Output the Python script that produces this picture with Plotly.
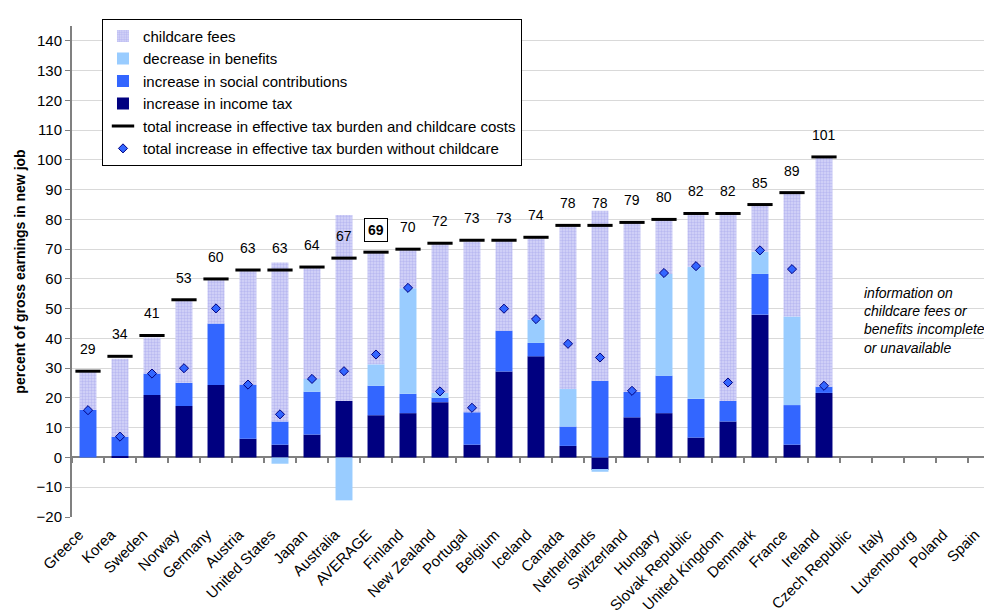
import plotly.graph_objects as go

countries = ["Greece", "Korea", "Sweden", "Norway", "Germany", "Austria", "United States", "Japan",
             "Australia", "AVERAGE", "Finland", "New Zealand", "Portugal", "Belgium", "Iceland", "Canada",
             "Netherlands", "Switzerland", "Hungary", "Slovak Republic", "United Kingdom", "Denmark",
             "France", "Ireland", "Czech Republic", "Italy", "Luxembourg", "Poland", "Spain"]
n_missing = 5  # last five countries: no data

income_tax = [0.0, 0.5, 21.0, 17.3, 24.4, 6.3, 4.3, 7.7, 19.0, 14.2, 14.9, 18.6, 4.3, 28.9, 34.0, 3.9,
              -4.2, 13.5, 14.9, 6.7, 12.1, 48.0, 4.3, 21.7] + [None] * n_missing
social = [16.0, 6.5, 7.2, 7.8, 20.6, 18.1, 7.8, 14.4, 0.0, 9.9, 6.5, 1.4, 10.9, 13.7, 4.5, 6.5,
          25.8, 8.5, 12.6, 13.0, 6.9, 13.7, 13.3, 2.1] + [None] * n_missing
benefits = [0.0, 0.0, 0.0, 0.0, 0.0, 0.0, -2.1, 4.3, -14.4, 7.2, 35.5, 1.7, 0.0, 0.0, 7.8, 12.6,
            -0.6, 0.0, 34.2, 44.4, 0.0, 7.5, 29.8, 0.0] + [None] * n_missing
childcare = [12.7, 26.2, 12.1, 27.8, 15.3, 38.7, 53.4, 37.4, 62.5, 37.6, 12.8, 50.6, 57.4, 30.5, 27.4, 54.7,
             57.1, 57.4, 18.2, 17.9, 63.2, 15.8, 41.6, 77.1] + [None] * n_missing
total = [29, 34, 41, 53, 60, 63, 63, 64, 67, 69, 70, 72, 73, 73, 74, 78,
         78, 79, 80, 82, 82, 85, 89, 101] + [None] * n_missing
without_childcare = [15.9, 7.0, 28.2, 30.0, 50.1, 24.5, 14.5, 26.4, 29.0, 34.6, 57.0, 22.2, 16.7, 50.0, 46.5, 38.2,
                     33.6, 22.4, 62.0, 64.3, 25.2, 69.6, 63.3, 24.1] + [None] * n_missing

FONT = "Liberation Sans, Arial, sans-serif"
bw = 0.53
xrange_ = [-0.5, 28.25]
ymin, ymax = -20, 145

fig = go.Figure()
fig.add_trace(go.Bar(x=countries, y=income_tax, name="increase in income tax", width=bw,
                     marker=dict(color="#000080", line_width=0), legendrank=4))
fig.add_trace(go.Bar(x=countries, y=social, name="increase in social contributions", width=bw,
                     marker=dict(color="#3366FF", line_width=0), legendrank=3))
fig.add_trace(go.Bar(x=countries, y=benefits, name="decrease in benefits", width=bw,
                     marker=dict(color="#99CCFF", line_width=0), legendrank=2))
fig.add_trace(go.Bar(x=countries, y=childcare, name="childcare fees", width=bw,
                     marker=dict(color="#C4C4F2", line_width=0,
                                 pattern=dict(shape=".", size=3, solidity=0.5,
                                              fgcolor="#9C9CEA", bgcolor="#D6D6F8")),
                     legendrank=1))
fig.add_trace(go.Scatter(x=countries, y=total, mode="markers",
                         name="total increase in effective tax burden and childcare costs",
                         marker=dict(symbol="line-ew", size=18, line=dict(width=3, color="black")),
                         legendrank=5))
fig.add_trace(go.Scatter(x=countries, y=without_childcare, mode="markers",
                         name="total increase in effective tax burden without childcare",
                         marker=dict(symbol="diamond", size=7, color="#3366FF",
                                     line=dict(width=1, color="#000080")),
                         legendrank=6))
# helper trace for the tick marks along the zero line
fig.add_trace(go.Scatter(x=countries, y=[0] * len(countries), xaxis="x2", mode="markers",
                         marker=dict(opacity=0), showlegend=False, hoverinfo="skip"))

# value labels above the totals
for c, t in zip(countries, total):
    if t is None:
        continue
    if c == "AVERAGE":
        fig.add_annotation(x=c, y=t, text=f"<b>{t:.0f}</b>", showarrow=False, yanchor="middle", yshift=22,
                           font=dict(size=14, color="black"), bordercolor="black", borderwidth=1,
                           borderpad=3, bgcolor="white")
    else:
        fig.add_annotation(x=c, y=t, text=f"{t:.0f}", showarrow=False, yanchor="middle", yshift=22,
                           font=dict(size=14, color="black"))

fig.add_annotation(xref="paper", x=0.8587, yref="y", y=46, xanchor="left", yanchor="middle", align="left",
                   showarrow=False,
                   text="<i>information on<br>childcare fees or<br>benefits incomplete<br>or unavailable</i>",
                   font=dict(size=14, color="black"))

# page body has an 8px default margin, so the figure is 8px smaller than the window
fig.update_layout(
    width=984, height=608,
    margin=dict(l=64, r=0, t=18, b=99, autoexpand=False),
    paper_bgcolor="white", plot_bgcolor="white",
    font=dict(family=FONT, size=15, color="black"),
    barmode="relative",
    showlegend=True,
    legend=dict(x=0.0326, y=1.015, xanchor="left", yanchor="top", traceorder="normal",
                bgcolor="white", bordercolor="black", borderwidth=1,
                font=dict(size=15), itemwidth=30, tracegroupgap=0),
    xaxis=dict(range=xrange_, autorange=False, tickangle=-45, showgrid=False, showline=False,
               ticks="outside", ticklen=2, tickcolor="rgba(0,0,0,0)", tickfont=dict(size=15),
               ticklabelshift=-9),
    xaxis2=dict(range=xrange_, autorange=False, overlaying="x", anchor="free",
                position=(0 - ymin) / (ymax - ymin),
                showticklabels=False, showgrid=False, showline=False, ticks="outside",
                tickson="boundaries", ticklen=5, tickwidth=2, tickcolor="#808080"),
    yaxis=dict(range=[ymin, ymax], autorange=False, dtick=10, tick0=0, showgrid=True, gridcolor="#D9D9D9",
               zeroline=True, zerolinecolor="#808080", zerolinewidth=2,
               showline=True, linecolor="#808080", linewidth=2,
               ticks="outside", ticklen=5, tickcolor="#808080", tickfont=dict(size=15),
               title=dict(text="<b>percent of gross earnings in new job</b>", font=dict(size=14), standoff=8)),
)

fig.write_html("out.html")
